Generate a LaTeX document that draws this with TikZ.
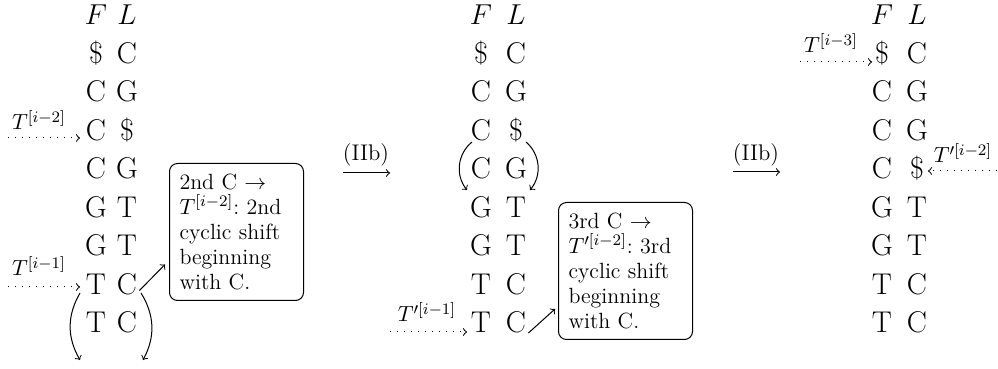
\documentclass[tikz,border=0pt]{standalone}
\usetikzlibrary{calc}
\begin{document}
\begin{tikzpicture}[x=0.5pt,y=-0.5pt,
  letter/.style={font=\fontsize{15}{18}\selectfont, inner sep=0pt, anchor=base},
  lab/.style={font=\fontsize{11.3}{13}\selectfont, inner sep=0pt},
  txtbox/.style={draw, rounded corners=4pt, line width=0.5pt, anchor=north west,
    align=left, text width=57pt, inner xsep=5pt, inner ysep=0pt,
    minimum width=67pt, minimum height=68.5pt,
    font=\fontsize{11}{12.6}\selectfont},
  ptr/.style={->, line width=0.5pt},
  dots/.style={->, line width=0.5pt, dash pattern=on 0.5pt off 3pt},
]
\useasboundingbox (0,0) rectangle (998,369);

% ---------- left panel ----------
\foreach \k/\f/\l in {1/{$F$}/{$L$},2/{\$}/C,3/C/G,4/C/{\$},5/C/G,6/G/T,7/G/T,8/T/C,9/T/C}{
  \node[letter] (aF\k) at (96,{25+(\k-1)*38.5}) {\f};
  \node[letter] (aL\k) at (127,{25+(\k-1)*38.5}) {\l};
}
\coordinate (as1) at (8,138);
\coordinate (ae1) at (80,138);
\draw[dots] (as1) -- (ae1);
\node[lab] (at1) at (39,120) {$T^{[i-2]}$};
\coordinate (as2) at (8,287);
\coordinate (ae2) at (80,287);
\draw[dots] (as2) -- (ae2);
\node[lab] (at2) at (39,266) {$T^{[i-1]}$};
\coordinate (ac1) at (80,293);
\coordinate (ac2) at (80,360);
\draw[ptr] (ac1) to[bend right=30] (ac2);
\coordinate (ac3) at (141,293);
\coordinate (ac4) at (143,360);
\draw[ptr] (ac3) to[bend left=30] (ac4);
\node[txtbox] (abox) at (169,163) {2nd C $\rightarrow$\\ $T^{[i-2]}$:\ 2nd\\ cyclic shift\\ beginning\\ with C.};
\draw[ptr] ($(aL8.base east)+(2,-4)$) -- ($(abox.west)+(-4,32.5)$);

% ---------- arrows (IIb) ----------
\node[lab] (iib1) at (366,155) {(IIb)};
\coordinate (ia1) at (343,173);
\coordinate (ia2) at (390,173);
\draw[ptr] (ia1) -- (ia2);
\node[lab] (iib2) at (756,155) {(IIb)};
\coordinate (ib1) at (733,172);
\coordinate (ib2) at (780,172);
\draw[ptr] (ib1) -- (ib2);

% ---------- middle panel ----------
\foreach \k/\f/\l in {1/{$F$}/{$L$},2/{\$}/C,3/C/G,4/C/{\$},5/C/G,6/G/T,7/G/T,8/T/C,9/T/C}{
  \node[letter] (bF\k) at (481,{25+(\k-1)*38.5}) {\f};
  \node[letter] (bL\k) at (516,{25+(\k-1)*38.5}) {\l};
}
\coordinate (bc1) at (472,142);
\coordinate (bc2) at (467,190);
\draw[ptr] (bc1) to[bend right=45] (bc2);
\coordinate (bc3) at (526,142);
\coordinate (bc4) at (530,190);
\draw[ptr] (bc3) to[bend left=45] (bc4);
\coordinate (bs1) at (390,332);
\coordinate (be1) at (467,332);
\draw[dots] (bs1) -- (be1);
\node[lab] (bt1) at (427,312) {$T'^{[i-1]}$};
\node[txtbox] (bbox) at (558,202) {3rd C $\rightarrow$\\ $T'^{[i-2]}$:\ 3rd\\ cyclic shift\\ beginning\\ with C.};
\draw[ptr] ($(bL9.base east)+(2,0)$) -- ($(bbox.west)+(-3,38)$);

% ---------- right panel ----------
\foreach \k/\f/\l in {1/{$F$}/{$L$},2/{\$}/C,3/C/G,4/C/G,5/C/{\$},6/G/T,7/G/T,8/T/C,9/T/C}{
  \node[letter] (cF\k) at (882,{25+(\k-1)*38.5}) {\f};
  \node[letter] (cL\k) at (917,{25+(\k-1)*38.5}) {\l};
}
\coordinate (cs1) at (800,62);
\coordinate (ce1) at (872,62);
\draw[dots] (cs1) -- (ce1);
\node[lab] (ct1) at (831,43) {$T^{[i-3]}$};
\coordinate (cs2) at (997,171);
\coordinate (ce2) at (928,171);
\draw[dots] (cs2) -- (ce2);
\node[lab] (ct2) at (963,153) {$T'^{[i-2]}$};
\end{tikzpicture}
\end{document}
